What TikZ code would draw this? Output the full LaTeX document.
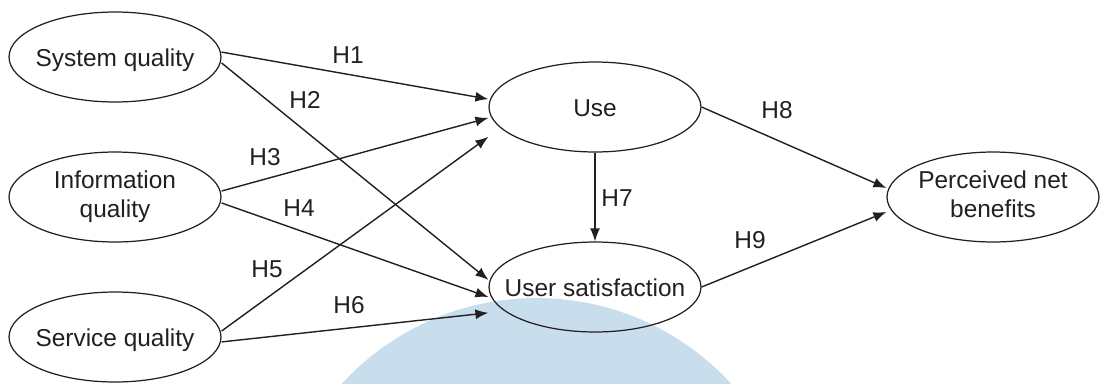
\documentclass[tikz,border=0pt]{standalone}
\usepackage{fontspec}
\setmainfont{Liberation Sans}
\usetikzlibrary{shapes.geometric,arrows.meta}
\definecolor{wmblue}{RGB}{201,222,236}
\definecolor{ink}{RGB}{35,31,32}
% text of zero width, so the ellipse keeps its own size
\newcommand{\cname}[1]{\makebox[0pt]{\begin{tabular}{@{}c@{}}#1\end{tabular}}}
\begin{document}
\begin{tikzpicture}[x=0.02cm, y=-0.02cm,
        construct/.style={ellipse, draw=ink, line width=0.7pt, minimum width=4.24cm, minimum height=1.8cm,
            inner sep=0pt, text=ink, font=\fontsize{13.9}{16.8}\selectfont},
        oneline/.style={text height=16.4pt, text depth=5pt},
        hyp/.style={text=ink, inner sep=0pt, font=\fontsize{13.9}{16.8}\selectfont},
        link/.style={draw=ink, line width=0.8pt, -{Latex[length=0.26cm, width=0.2cm]}}]
                \useasboundingbox (0,0) rectangle (1100,383);
                % watermark
                \begin{scope}
                    \clip (0,0) rectangle (1100,383);
                    \fill [wmblue] (536.5,562) circle [radius=5.28cm];
                \end{scope}
                \node [construct, oneline] (sys) at (115,57) {\cname{System quality}};
                \node [construct] (info) at (115,197) {\cname{Information\\quality}};
                \node [construct, oneline] (serv) at (115,337) {\cname{Service quality}};
                \node [construct, oneline] (use) at (595,107) {\cname{Use}};
                \node [construct, oneline] (sat) at (595,287) {\cname{User satisfaction}};
                \node [construct] (pnb) at (993,197) {\cname{Perceived net\\benefits}};
                \draw [link] ([yshift=2.8pt]sys.east) -- ([yshift=4.5pt]use.west);
                \draw [link] ([yshift=-3.4pt]sys.east) -- ([yshift=4pt]sat.west);
                \draw [link] ([yshift=3.4pt]info.east) -- ([yshift=-6.2pt]use.west);
                \draw [link] ([yshift=-3.4pt]info.east) -- ([yshift=-5.7pt]sat.west);
                \draw [link] ([yshift=3.4pt]serv.east) -- ([yshift=-17pt]use.west);
                \draw [link] ([yshift=-2.8pt]serv.east) -- ([yshift=-14.7pt]sat.west);
                \draw [link] (use.south) -- (sat.north);
                \draw [link] (use.east) -- ([yshift=5.1pt]pnb.west);
                \draw [link] (sat.east) -- ([yshift=-8.5pt]pnb.west);
                \node [hyp] (h1) at (348,55) {H1};
                \node [hyp] (h2) at (305,100) {H2};
                \node [hyp] (h3) at (265,157) {H3};
                \node [hyp] (h4) at (299,208) {H4};
                \node [hyp] (h5) at (267,269) {H5};
                \node [hyp] (h6) at (349,305) {H6};
                \node [hyp] (h7) at (617,198) {H7};
                \node [hyp] (h8) at (777,110) {H8};
                \node [hyp] (h9) at (750,240) {H9};
\end{tikzpicture}
\end{document}
